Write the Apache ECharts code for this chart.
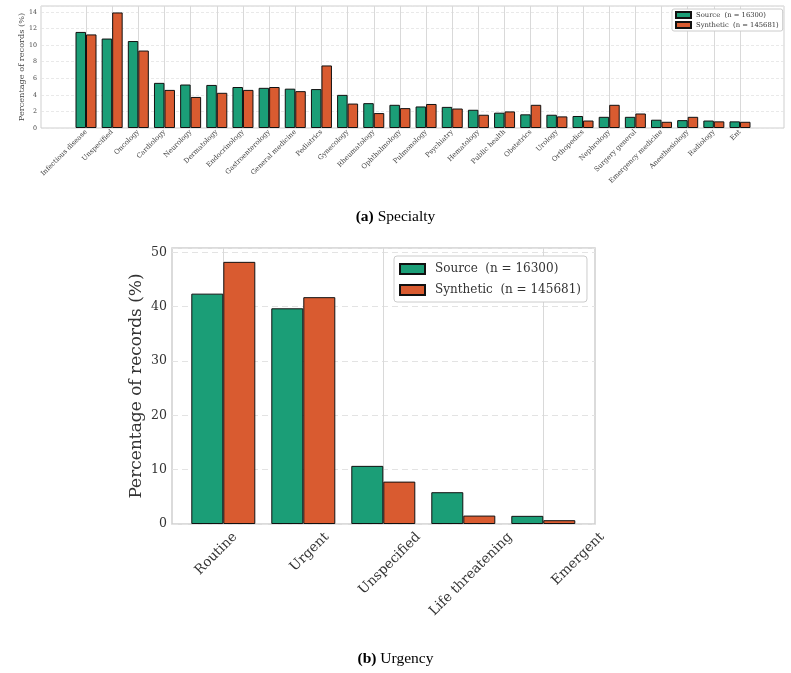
<!DOCTYPE html>
<html>
<head>
<meta charset="utf-8">
<script src="https://cdn.jsdelivr.net/npm/echarts@6/dist/echarts.min.js"></script>
<style>
  html, body { margin: 0; padding: 0; background: #fff; }
  #chart { width: 791px; height: 673px; }
</style>
</head>
<body>
<div id="chart"></div>
<script>
// (a) Specialty
const specialties = [
  'Infectious disease', 'Unspecified', 'Oncology', 'Cardiology', 'Neurology',
  'Dermatology', 'Endocrinology', 'Gastroenterology', 'General medicine', 'Pediatrics',
  'Gynecology', 'Rheumatology', 'Ophthalmology', 'Pulmonology', 'Psychiatry',
  'Hematology', 'Public health', 'Obstetrics', 'Urology', 'Orthopedics',
  'Nephrology', 'Surgery general', 'Emergency medicine', 'Anesthesiology', 'Radiology', 'Ent'
];
const specialtySource = [
  11.6, 10.8, 10.5, 5.45, 5.25, 5.2, 4.95, 4.85, 4.75, 4.7,
  4.0, 3.0, 2.8, 2.6, 2.55, 2.2, 1.85, 1.65, 1.6, 1.45,
  1.35, 1.35, 1.0, 0.95, 0.9, 0.8
];
const specialtySynthetic = [
  11.3, 13.95, 9.35, 4.6, 3.75, 4.25, 4.6, 4.95, 4.45, 7.55,
  2.95, 1.8, 2.4, 2.9, 2.35, 1.6, 2.0, 2.8, 1.4, 0.9,
  2.8, 1.75, 0.75, 1.35, 0.8, 0.75
];

// (b) Urgency
const urgencies = ['Routine', 'Urgent', 'Unspecified', 'Life threatening', 'Emergent'];
const urgencySource = [42.4, 39.7, 10.7, 5.85, 1.5];
const urgencySynthetic = [48.25, 41.75, 7.8, 1.55, 0.7];

const sourceName = 'Source  (n = 16300)';
const syntheticName = 'Synthetic  (n = 145681)';
const green = '#1b9e77';
const orange = '#d95b30';
const serif = 'DejaVu Serif';

const chart = echarts.init(document.getElementById('chart'), null, { renderer: 'canvas' });

const barStyle = (color) => ({
  color: color,
  borderColor: '#111',
  borderWidth: 1
});

const captionStyle = {
  fontFamily: 'Liberation Serif', fontSize: 15.5, fontWeight: 'normal', color: '#000',
  rich: { b: { fontFamily: 'Liberation Serif', fontSize: 15.5, fontWeight: 'bold', color: '#000' } }
};

const option = {
  backgroundColor: '#fff',
  animation: false,
  title: [
    { text: '{b|(a)} Specialty', left: 'center', top: 204, textStyle: captionStyle },
    { text: '{b|(b)} Urgency', left: 'center', top: 646, textStyle: captionStyle }
  ],
  legend: [
    {
      data: [sourceName, syntheticName],
      orient: 'vertical',
      left: 672,
      top: 9,
      padding: [2, 4, 2, 3],
      itemGap: 2,
      itemWidth: 15,
      itemHeight: 6,
      icon: 'rect',
      backgroundColor: '#fff',
      borderColor: '#ccc',
      borderWidth: 1,
      borderRadius: 2,
      textStyle: { fontFamily: serif, fontSize: 6.8, color: '#333' }
    },
    {
      data: [sourceName, syntheticName],
      orient: 'vertical',
      left: 394,
      top: 256,
      padding: [7, 6, 6, 5],
      itemGap: 9,
      itemWidth: 25,
      itemHeight: 10,
      icon: 'rect',
      backgroundColor: '#fff',
      borderColor: '#ccc',
      borderWidth: 1,
      borderRadius: 3,
      textStyle: { fontFamily: serif, fontSize: 12, color: '#333', padding: [0, 0, 0, 5] }
    }
  ],
  grid: [
    // frame + horizontal grid of (a)
    { left: 41, right: 7, top: 6, height: 122, show: true, borderColor: '#cfcfcf', borderWidth: 1, backgroundColor: 'transparent' },
    // bars of (a): first to last category centre
    { left: 86, right: 51, top: 6, height: 122 },
    // frame + horizontal grid of (b)
    { left: 172, right: 196, top: 248, height: 276, show: true, borderColor: '#cfcfcf', borderWidth: 1.5, backgroundColor: 'transparent' },
    // bars of (b)
    { left: 223.3, right: 247.7, top: 248, height: 276 },
    // tick labels of (b), spaced as in the figure
    { left: 235, right: 189, top: 248, height: 276 }
  ],
  xAxis: [
    { gridIndex: 0, type: 'value', show: false },
    {
      gridIndex: 1,
      type: 'category',
      data: specialties,
      boundaryGap: false,
      axisLine: { show: false },
      axisTick: { show: false },
      splitLine: { show: true, lineStyle: { color: '#d9d9d9', width: 1 } },
      axisLabel: { rotate: 45, interval: 0, margin: 3, fontFamily: serif, fontSize: 6.8, color: '#444' }
    },
    { gridIndex: 2, type: 'value', show: false },
    {
      gridIndex: 3,
      type: 'category',
      data: urgencies,
      boundaryGap: false,
      axisLine: { show: false },
      axisTick: { show: false },
      splitLine: { show: true, lineStyle: { color: '#d9d9d9', width: 1 } },
      axisLabel: { show: false }
    },
    {
      gridIndex: 4,
      type: 'category',
      data: urgencies,
      boundaryGap: false,
      axisLine: { show: false },
      axisTick: { show: false },
      splitLine: { show: false },
      axisLabel: { rotate: 45, interval: 0, margin: 11, fontFamily: serif, fontSize: 13.5, color: '#333' }
    }
  ],
  yAxis: [
    {
      gridIndex: 0,
      type: 'value',
      min: 0,
      max: 14.73,
      interval: 2,
      name: 'Percentage of records (%)',
      nameLocation: 'middle',
      nameGap: 15,
      nameMoveOverlap: false,
      nameTextStyle: { fontFamily: serif, fontSize: 8.2, color: '#444' },
      axisLine: { show: false },
      axisTick: { show: false },
      axisLabel: { margin: 4, fontFamily: serif, fontSize: 6.3, color: '#444', showMaxLabel: false },
      splitLine: { show: true, lineStyle: { color: '#e3e3e3', type: [3, 2], width: 0.8 } }
    },
    { gridIndex: 1, type: 'value', min: 0, max: 14.73, show: false, splitLine: { show: false } },
    {
      gridIndex: 2,
      type: 'value',
      min: 0,
      max: 50.8,
      interval: 10,
      name: 'Percentage of records (%)',
      nameLocation: 'middle',
      nameGap: 27,
      nameMoveOverlap: false,
      nameTextStyle: { fontFamily: serif, fontSize: 17, color: '#333' },
      axisLine: { show: false },
      axisTick: { show: false },
      axisLabel: { margin: 5, fontFamily: serif, fontSize: 12.5, color: '#333', showMaxLabel: false },
      splitLine: { show: true, lineStyle: { color: '#e3e3e3', type: [6, 4], width: 1 } }
    },
    { gridIndex: 3, type: 'value', min: 0, max: 50.8, show: false, splitLine: { show: false } },
    { gridIndex: 4, type: 'value', min: 0, max: 50.8, show: false, splitLine: { show: false } }
  ],
  series: [
    {
      name: sourceName, type: 'bar', xAxisIndex: 1, yAxisIndex: 1,
      data: specialtySource, barWidth: 10.5, barGap: '0%', clip: false,
      itemStyle: barStyle(green)
    },
    {
      name: syntheticName, type: 'bar', xAxisIndex: 1, yAxisIndex: 1,
      data: specialtySynthetic, barWidth: 10.5, barGap: '0%', clip: false,
      itemStyle: barStyle(orange)
    },
    {
      name: sourceName, type: 'bar', xAxisIndex: 3, yAxisIndex: 3,
      data: urgencySource, barWidth: 32, barGap: '0%', clip: false,
      itemStyle: barStyle(green)
    },
    {
      name: syntheticName, type: 'bar', xAxisIndex: 3, yAxisIndex: 3,
      data: urgencySynthetic, barWidth: 32, barGap: '0%', clip: false,
      itemStyle: barStyle(orange)
    }
  ]
};

chart.setOption(option);
</script>
</body>
</html>
